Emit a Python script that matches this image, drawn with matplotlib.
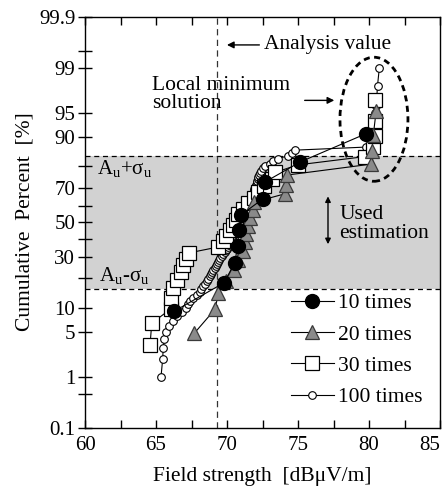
from statistics import NormalDist
import numpy as np
import matplotlib
matplotlib.use("Agg")
import matplotlib.pyplot as plt
from matplotlib.patches import Ellipse

plt.rcParams['font.family'] = ['Liberation Serif', 'DejaVu Serif']
plt.rcParams['mathtext.fontset'] = 'custom'
plt.rcParams['mathtext.rm'] = 'Liberation Serif'
plt.rcParams['mathtext.it'] = 'Liberation Serif:italic'

# field strength [dBuV/m], sorted; cumulative percent = rank / (n + 1)
times10 = [66.3, 69.8, 70.55, 70.75, 70.85, 71.0, 72.5, 72.65, 75.15, 79.8]
times20 = [67.7, 69.15, 69.4, 69.9, 70.5, 70.8, 71.1, 71.3, 71.35, 71.45,
           71.6, 71.8, 71.9, 74.1, 74.15, 74.25, 80.15, 80.2, 80.3, 80.5]
times30 = [64.58, 64.7, 66.05, 66.07, 66.17, 66.5, 66.73, 66.87, 67.1, 67.3,
           69.35, 69.7, 69.95, 70.2, 70.4, 70.6, 70.8, 71.15, 71.5, 71.9,
           72.2, 72.6, 73.2, 73.4, 75.0, 79.7, 80.25, 80.4, 80.42, 80.45]
times100 = [65.35, 65.47, 65.51, 65.58, 65.7, 65.92, 66.18, 66.5, 66.81, 67.1,
            67.25, 67.39, 67.63, 67.87, 68.1, 68.2, 68.33, 68.45, 68.57, 68.68,
            68.8, 68.86, 68.92, 69.03, 69.15, 69.22, 69.28, 69.34, 69.42, 69.5,
            69.62, 69.74, 69.84, 69.93, 70.0, 70.08, 70.15, 70.21, 70.26, 70.3,
            70.36, 70.41, 70.45, 70.5, 70.56, 70.6, 70.66, 70.7, 70.75, 70.8,
            70.86, 70.9, 70.95, 71.0, 71.06, 71.12, 71.17, 71.22, 71.3, 71.36,
            71.42, 71.47, 71.52, 71.58, 71.63, 71.7, 71.76, 71.82, 71.88, 71.93,
            71.98, 72.03, 72.08, 72.12, 72.16, 72.2, 72.25, 72.3, 72.4, 72.55,
            72.7, 73.0, 73.26, 73.6, 74.3, 74.55, 74.8, 79.76, 80.2, 80.28,
            80.32, 80.35, 80.38, 80.4, 80.42, 80.45, 80.5, 80.55, 80.6, 80.73]

sigma_band = [15.87, 84.13]
analysis_value = 69.3
y_ticks = [0.1, 1, 5, 10, 30, 50, 70, 90, 95, 99, 99.9]
y_minor = [0.5, 20, 40, 60, 80, 99.5]

nd = NormalDist()
_inv = np.vectorize(lambda v: nd.inv_cdf(v / 100.0), otypes=[float])
_cdf = np.vectorize(lambda v: nd.cdf(v) * 100.0, otypes=[float])


def to_probit(p):
    return _inv(np.clip(np.asarray(p, float), 1e-9, 100 - 1e-9))


def from_probit(z):
    return _cdf(np.asarray(z, float))


def rank_percent(vals):
    n = len(vals)
    return [100.0 * (i + 1) / (n + 1) for i in range(n)]


fig = plt.figure(figsize=(4.46, 4.87), dpi=100)
ax = fig.add_axes([85 / 446, 1 - 427.7 / 487, 355 / 446, 410.7 / 487])
ax.set_yscale('function', functions=(to_probit, from_probit))
ax.set_xlim(60, 85)
ax.set_ylim(0.1, 99.9)

ax.axhspan(sigma_band[0], sigma_band[1], color='#d2d2d2', zorder=0, lw=0)
for yv in sigma_band:
    ax.axhline(yv, color='black', lw=0.9, ls=(0, (4, 3)), zorder=1)
ax.axvline(analysis_value, color='#333333', lw=0.9, ls=(0, (5, 3.5)), zorder=1)

lw = 0.8
h100, = ax.plot(times100, rank_percent(times100), '-o', color='black', lw=lw,
                ms=5.5, mfc='white', mec='black', mew=0.8, zorder=3)
h30, = ax.plot(times30, rank_percent(times30), '-s', color='black', lw=lw,
               ms=9.5, mfc='white', mec='black', mew=0.9, zorder=4)
h20, = ax.plot(times20, rank_percent(times20), '-^', color='black', lw=lw,
               ms=10.5, mfc='#8a8a8a', mec='#3a3a3a', mew=0.9, zorder=5)
h10, = ax.plot(times10, rank_percent(times10), '-o', color='black', lw=lw,
               ms=10, mfc='black', mec='black', zorder=6)

ax.set_yticks(y_ticks)
ax.set_yticklabels([f"{t:g}" for t in y_ticks])
ax.set_yticks(y_minor, minor=True)
ax.set_xticks(np.arange(60, 86, 5))
ax.set_xticks(np.arange(62.5, 85, 5), minor=True)
ax.tick_params(axis='y', which='both', direction='inout', length=10,
               width=1, labelsize=15, pad=2, right=False)
ax.tick_params(axis='x', which='both', direction='in', length=6,
               width=1, labelsize=15, pad=6, top=True)
# last x label sits inside the figure edge, as in the original
ax.get_xticklabels()[-1].set_horizontalalignment('right')
for s in ax.spines.values():
    s.set_linewidth(1.0)

fig.text(262 / 446, 1 - 477 / 487, 'Field strength  [dB\u03bcV/m]',
         fontsize=15.5, ha='center', va='center')
fig.text(25 / 446, 1 - 222 / 487, 'Cumulative  Percent  [%]',
         fontsize=15.5, ha='center', va='center', rotation=90)

T = ax.transAxes
ax.annotate('', xy=(0.392, 0.932), xytext=(0.499, 0.932), xycoords=T,
            arrowprops=dict(arrowstyle='-|>', color='black', lw=1,
                            mutation_scale=10))
ax.text(0.504, 0.932, 'Analysis value', transform=T, fontsize=15.5,
        ha='left', va='center')
ax.text(0.19, 0.812, 'Local minimum\nsolution', transform=T, fontsize=15.5,
        ha='left', va='center', linespacing=0.95)
ax.annotate('', xy=(0.71, 0.797), xytext=(0.611, 0.797), xycoords=T,
            arrowprops=dict(arrowstyle='-|>', color='black', lw=1,
                            mutation_scale=10))
ax.add_patch(Ellipse((0.814, 0.751), 0.1915, 0.302, transform=T, fill=False,
                     ec='black', lw=2, ls=(0, (2.2, 1.6)), zorder=7))
ax.text(0.716, 0.496, 'Used\nestimation', transform=T, fontsize=15.5,
        ha='left', va='center', linespacing=0.95)
ax.annotate('', xy=(0.6845, 0.57), xytext=(0.6845, 0.44), xycoords=T,
            arrowprops=dict(arrowstyle='<|-|>', color='black', lw=1,
                            mutation_scale=8))
ax.text(0.034, 0.632, r'$\mathrm{A_u}$+$\mathrm{\sigma_u}$', transform=T,
        fontsize=15, ha='left', va='center')
ax.text(0.04, 0.37, r'$\mathrm{A_u}$-$\mathrm{\sigma_u}$', transform=T,
        fontsize=15, ha='left', va='center')

ax.legend([h10, h20, h30, h100],
          ['10 times', '20 times', '30 times', '100 times'],
          loc='upper left', bbox_to_anchor=(0.58, 0.327), frameon=False,
          fontsize=15.5, handlelength=2.0, handletextpad=0.2,
          labelspacing=0.52, borderpad=0, borderaxespad=0)

fig.savefig('out.png', dpi=100)
